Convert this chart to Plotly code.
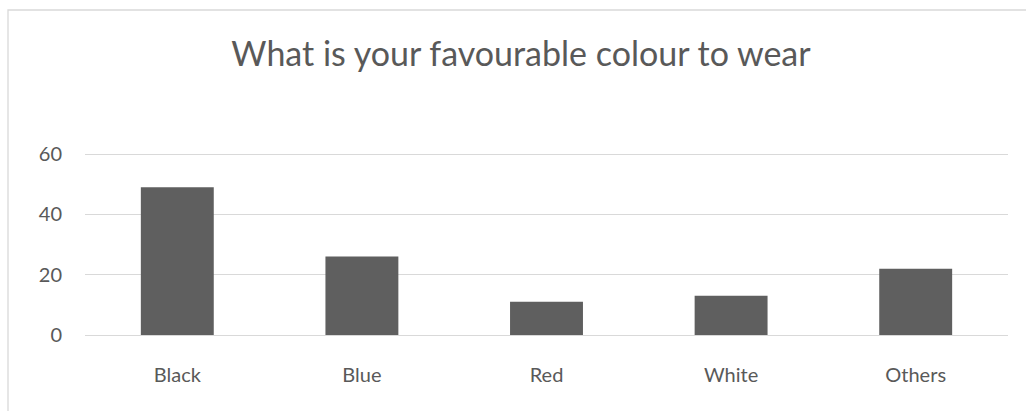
import plotly.graph_objects as go

categories = ["Black", "Blue", "Red", "White", "Others"]
values = [49, 26, 11, 13, 22]
y_ticks = [0, 20, 40, 60]

W, H = 1026, 411
L, R, T, B = 85, 18, 151, 76
pw = W - L - R
ph = H - T - B

fig = go.Figure(go.Bar(x=categories, y=values, marker_color="#5f5f5f", marker_line_width=0))

fig.update_layout(
    width=W, height=H,
    margin=dict(l=L, r=R, t=T, b=B),
    paper_bgcolor="white", plot_bgcolor="white",
    bargap=0.605,
    showlegend=False,
    font=dict(family="Lato, Open Sans, sans-serif", color="#595959", size=20),
    title=dict(text="What is your favourable colour to wear", x=521 / W, xanchor="center",
               y=1 - 54 / H, yanchor="middle", yref="container",
               font=dict(size=34, color="#595959")),
    xaxis=dict(showgrid=False, showline=False, ticks="", tickfont=dict(size=20),
               ticklabelstandoff=26),
    yaxis=dict(range=[0, 61], tickvals=y_ticks, showgrid=True, gridcolor="#d9d9d9",
               gridwidth=1.3, zeroline=True, zerolinecolor="#d9d9d9", zerolinewidth=1.3,
               showline=False, ticks="", ticklabelstandoff=22, tickfont=dict(size=20)),
    shapes=[dict(type="rect", xref="paper", yref="paper",
                 x0=(8 - L) / pw, x1=1.2, y0=-1.0, y1=(H - B - 10) / ph,
                 line=dict(color="#d9d9d9", width=1.3), fillcolor="rgba(0,0,0,0)", layer="below")],
)

fig.write_html("out.html")
